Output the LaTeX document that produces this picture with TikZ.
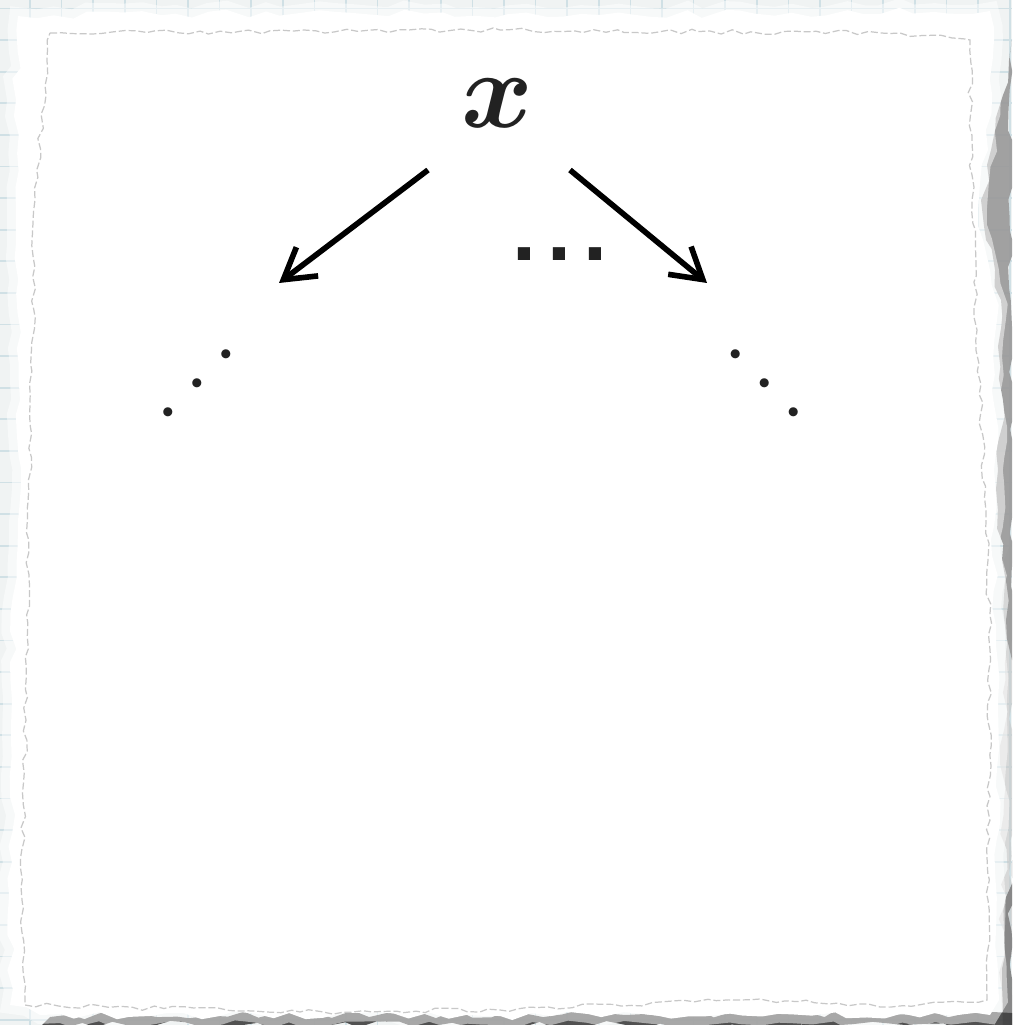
\RequirePackage{fix-cm}
\documentclass[tikz,border=0pt]{standalone}
\usepackage{bm}
\usepackage{fontspec}
\newfontfamily\dotfont{Liberation Sans}
\usetikzlibrary{arrows.meta,decorations.pathmorphing}
\definecolor{bgc}{RGB}{240,243,243}
\definecolor{gridc}{RGB}{208,224,229}
\definecolor{edgec}{RGB}{200,200,200}
\definecolor{inkc}{RGB}{34,34,34}
\tikzset{
  conn/.style={line width=1.6pt, black, -{Straight Barb[length=3mm,width=3.6mm,sharp]}},
  torn/.style={decorate, decoration={random steps, segment length=5pt, amplitude=1.2pt}},
  finetorn/.style={decorate, decoration={random steps, segment length=3pt, amplitude=0.7pt}},
  gridline/.style={gridc, line width=0.5pt},
  label/.style={inner sep=0pt, text=inkc},
}
\begin{document}
\begin{tikzpicture}[x=0.01cm,y=-0.01cm]
\useasboundingbox (0,0) rectangle (1012,1025);
\clip (0,0) rectangle (1012,1025);
% background sheet with grid
\fill[bgc] (0,0) rectangle (1012,1025);
\foreach \i in {0,...,32} \draw[gridline] ({-1.6+31.6*\i},0) -- ++(0,1025);
\foreach \j in {0,...,33} \draw[gridline] (0,{8.5+31.6*\j}) -- ++(1012,0);
% shadows
\pgfmathsetseed{7}
\fill[black!22, opacity=0.6, torn] (1004,560) -- (1012,540) -- (1012,1025) -- (1002,1025) -- (1004,800) -- cycle;
\fill[black!40, opacity=0.9, torn] (1012,40) -- (1012,660) -- (1006,620) -- (1002,560) -- (998,470) -- (1003,400) -- (1001,300) -- (995,270) -- (986,240) -- (981,200) -- (991,150) -- (1003,95) -- (1009,60) -- cycle;
\fill[black!50, opacity=0.9, torn] (1012,860) -- (1012,1025) -- (1003,1025) -- (1004,930) -- cycle;
\fill[black!75, opacity=0.9, torn] (50,1017) -- (400,1014) -- (1012,1013) -- (1012,1025) -- (50,1025) -- cycle;
% paper
\pgfmathsetseed{42}
\draw[white, opacity=0.5, line width=5pt, torn] (18,16) -- (300,13) -- (600,15) -- (990,11) -- (994,40) -- (988,150) -- (978,210) -- (990,270) -- (997,320) -- (994,470) -- (998,700) -- (999,1000) -- (990,1015) -- (500,1016) -- (40,1015) -- (10,1005) -- (12,700) -- (20,400) -- (16,100) -- cycle;
\pgfmathsetseed{42}
\fill[white, torn] (18,16) -- (300,13) -- (600,15) -- (990,11) -- (994,40) -- (988,150) -- (978,210) -- (990,270) -- (997,320) -- (994,470) -- (998,700) -- (999,1000) -- (990,1015) -- (500,1016) -- (40,1015) -- (10,1005) -- (12,700) -- (20,400) -- (16,100) -- cycle;
\pgfmathsetseed{11}
\draw[edgec, line width=0.35pt, dash pattern=on 2pt off 0.8pt, finetorn] (50,33) -- (500,30) -- (900,33) -- (970,40) -- (972,200) -- (977,330) -- (986,520) -- (990,650) -- (988,900) -- (987,1000) -- (880,1007) -- (760,999) -- (500,1010) -- (300,1012) -- (25,1005) -- (22,900) -- (35,200) -- (47,60) -- cycle;
% content
\node[label, font=\fontsize{31}{32}\selectfont] (x) at (497,103) {$\bm{x}$};
\node[label, anchor=base, font=\dotfont\bfseries\fontsize{24.5}{25}\selectfont] (hd) at (559.5,261) {.\hspace{3.3pt}.\hspace{3.3pt}.};
\node[label, rotate=45, font=\fontsize{26.7}{28}\selectfont] (ld) at (197,383) {$\ldots$};
\node[label, rotate=-45, font=\fontsize{26.7}{28}\selectfont] (rd) at (765,383) {$\ldots$};
\coordinate (ls) at (428,170);
\coordinate (le) at (279,283);
\coordinate (rs) at (570,170);
\coordinate (re) at (707,283);
\draw[conn] (ls) -- (le);
\draw[conn] (rs) -- (re);
\end{tikzpicture}
\end{document}
